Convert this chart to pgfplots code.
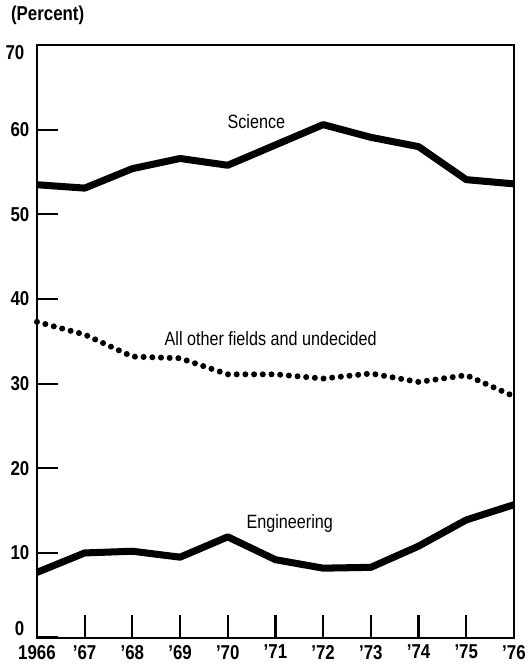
\documentclass[border=0pt]{standalone}
\usepackage{fontspec}
\setmainfont{Liberation Sans}[FakeStretch=0.84]
\usepackage{pgfplots}
\pgfplotsset{compat=1.18}

\begin{document}
\begin{tikzpicture}
\begin{axis}[
  at={(0,0)}, anchor=south west,
  width=285pt, height=354pt, scale only axis,
  xmin=1966, xmax=1976, ymin=0, ymax=70,
  xtick={1966,...,1976},
  xticklabels={1966,'67,'68,'69,'70,'71,'72,'73,'74,'75,'76},
  ytick={0,10,...,70},
  yticklabels={,10,20,30,40,50,60,},
  tick align=inside,
  xtick pos=bottom, ytick pos=left,
  tickwidth=12.5pt,
  every tick/.append style={black, line width=1.3pt},
  axis line style={line width=1.2pt},
  ticklabel style={font=\bfseries\fontsize{12}{12}\selectfont},
  /pgf/number format/assume math mode=true,
  yticklabel style={xshift=-1pt},
  xticklabel style={yshift=-1pt},
  clip=false,
]
% Science
\addplot[black, line width=4.2pt, line join=round] coordinates {
  (1966,53.5) (1967,53.1) (1968,55.4) (1969,56.6) (1970,55.8) (1971,58.2)
  (1972,60.6) (1973,59.1) (1974,58.0) (1975,54.1) (1976,53.6)};
% All other fields and undecided
\addplot[black, line width=3.6pt, line cap=round, dash pattern=on 0pt off 5.2pt] coordinates {
  (1966,37.3) (1967,35.8) (1968,33.2) (1969,33.0) (1970,31.1) (1971,31.1)
  (1972,30.6) (1973,31.2) (1974,30.2) (1975,31.0) (1976,28.5)};
% Engineering
\addplot[black, line width=4.2pt, line join=round] coordinates {
  (1966,7.7) (1967,10.0) (1968,10.2) (1969,9.5) (1970,11.9) (1971,9.2)
  (1972,8.2) (1973,8.3) (1974,10.8) (1975,13.9) (1976,15.7)};
% tick marks drawn again, in case the axis leaves them out
\pgfplotsinvokeforeach{1967,...,1975}{
  \draw[line width=1.3pt] (axis cs:#1,0) -- ([yshift=13.5pt]axis cs:#1,0);}
\pgfplotsinvokeforeach{10,20,...,60}{
  \draw[line width=1.3pt] (axis cs:1966,#1) -- ([xshift=11.5pt]axis cs:1966,#1);}
\node[font=\fontsize{11.5}{12}\selectfont] at (axis cs:1970.6,61.0) {Science};
\node[font=\fontsize{11.5}{12}\selectfont] at (axis cs:1970.9,35.3) {All other fields and undecided};
\node[font=\fontsize{11.5}{12}\selectfont] at (axis cs:1971.3,13.5) {Engineering};
\node[font=\bfseries\fontsize{12}{12}\selectfont, anchor=east] at ([xshift=-4pt,yshift=5.5pt]axis cs:1966,0) {0};
\node[font=\bfseries\fontsize{12}{12}\selectfont, anchor=east] at ([xshift=-4pt,yshift=-4.5pt]axis cs:1966,70) {70};
\node[font=\bfseries\fontsize{12}{12}\selectfont, anchor=west] at ([xshift=-19pt,yshift=18pt]rel axis cs:0,1) {(Percent)};
\end{axis}
\end{tikzpicture}
\end{document}
